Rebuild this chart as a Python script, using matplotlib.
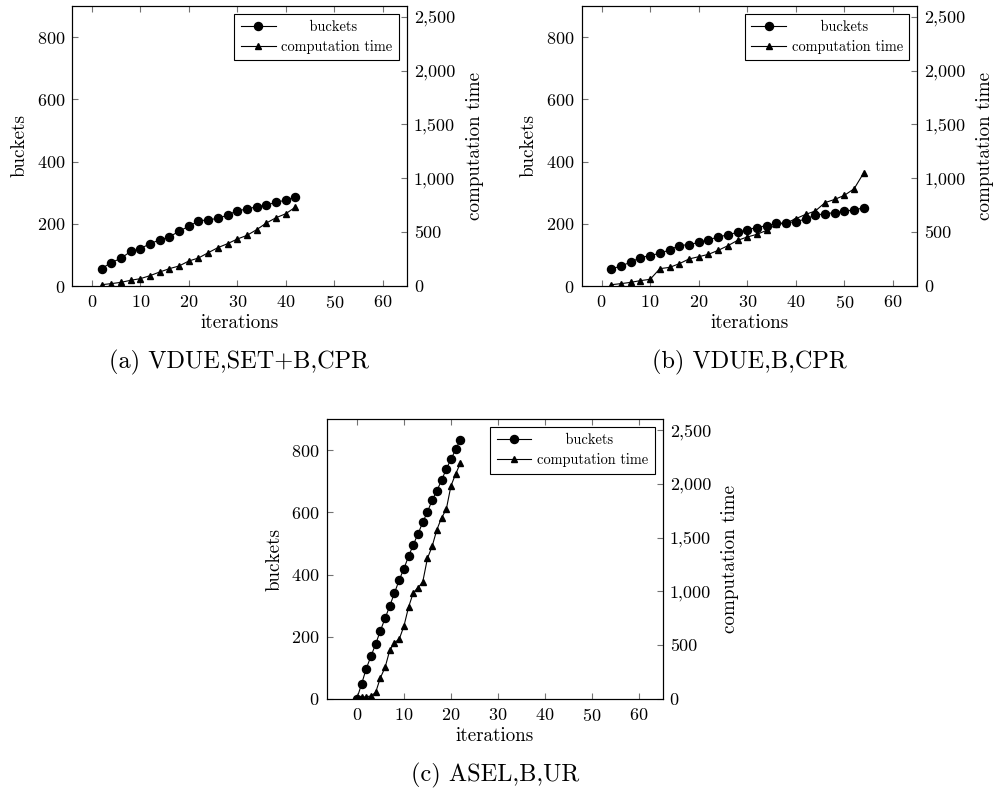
import matplotlib
matplotlib.use("Agg")
import matplotlib.pyplot as plt
from matplotlib.ticker import FuncFormatter

plt.rcParams["font.family"] = ["cmr10", "DejaVu Serif"]
plt.rcParams["axes.formatter.use_mathtext"] = True

# (a) VDUE,SET+B,CPR
iters_a = [2, 4, 6, 8, 10, 12, 14, 16, 18, 20, 22, 24, 26, 28, 30, 32, 34, 36, 38, 40, 42]
buckets_a = [56, 75, 89, 111, 120, 136, 148, 158, 176, 192, 209, 213, 217, 228, 242,
             247, 255, 260, 269, 276, 286]
time_a = [12, 22, 34, 53, 68, 96, 130, 161, 186, 232, 260, 309, 356, 393, 436,
          470, 523, 585, 634, 671, 733]

# (b) VDUE,B,CPR
iters_b = [2, 4, 6, 8, 10, 12, 14, 16, 18, 20, 22, 24, 26, 28, 30, 32, 34, 36, 38, 40,
           42, 44, 46, 48, 50, 52, 54]
buckets_b = [55, 64, 77, 91, 98, 105, 116, 130, 133, 140, 149, 157, 165, 172, 181, 188,
             194, 201, 203, 207, 215, 228, 232, 236, 240, 245, 251]
time_b = [12, 22, 34, 50, 62, 161, 173, 207, 251, 272, 294, 331, 374, 424, 455, 480,
          517, 572, 585, 625, 665, 696, 774, 804, 842, 903, 1052]

# (c) ASEL,B,UR
iters_c = list(range(0, 23))
buckets_c = [0, 47, 97, 137, 176, 219, 259, 299, 341, 382, 419, 459, 496, 531, 568,
             602, 639, 670, 703, 740, 771, 803, 835]
time_c = [0, 12, 19, 25, 59, 195, 291, 452, 523, 554, 675, 854, 987, 1034, 1086,
          1306, 1418, 1572, 1684, 1761, 1981, 2092, 2191]

x_ticks = [0, 10, 20, 30, 40, 50, 60]
bucket_ticks = [0, 200, 400, 600, 800]
time_ticks = [0, 500, 1000, 1500, 2000, 2500]

comma = FuncFormatter(lambda v, p: f"{int(v):,}")


def panel(fig, rect, xs, bk, tm, xmin, caption):
    ax = fig.add_axes(rect)
    ax2 = ax.twinx()
    l1, = ax.plot(xs, bk, color="black", marker="o", markersize=5.8, linewidth=0.8)
    l2, = ax2.plot(xs, tm, color="black", marker="^", markersize=4.6, linewidth=0.8)
    ax.set_xlim(xmin, 65)
    ax.set_ylim(0, 900)
    ax2.set_ylim(0, 2600)
    ax.set_xticks(x_ticks)
    ax.set_yticks(bucket_ticks)
    ax2.set_yticks(time_ticks)
    ax2.yaxis.set_major_formatter(comma)
    ax.tick_params(axis="x", direction="in", top=True, length=4, color="0.45",
                   labelsize=13, pad=6)
    ax.tick_params(axis="y", direction="in", length=4, color="0.45", labelsize=13,
                   pad=5)
    ax2.tick_params(axis="y", direction="in", length=4, color="0.45", labelsize=13,
                    pad=5)
    ax.set_xlabel("iterations", fontsize=13.7, labelpad=2)
    ax.set_ylabel("buckets", fontsize=13.7, labelpad=6)
    ax2.set_ylabel("computation time", fontsize=13.7, labelpad=7.5)
    for a in (ax, ax2):
        for s in a.spines.values():
            s.set_linewidth(0.8)
    leg = ax2.legend([l1, l2], ["      buckets", "computation time"], loc="upper right",
                     fontsize=10.4, fancybox=False, edgecolor="black", framealpha=1,
                     borderaxespad=0.55, handlelength=2.4, handletextpad=0.4,
                     borderpad=0.45, labelspacing=0.4)
    leg.get_frame().set_linewidth(0.8)
    fig.text(rect[0] + rect[2] / 2, rect[1] - 0.096, caption, ha="center",
             va="center", fontsize=17.5)
    return ax


fig = plt.figure(figsize=(9.94, 7.96), dpi=100)
panel(fig, [0.0724, 0.6407, 0.337, 0.3518], iters_a, buckets_a, time_a, -4.1,
      "(a) VDUE,SET+B,CPR")
panel(fig, [0.5852, 0.6407, 0.3376, 0.3518], iters_b, buckets_b, time_b, -4.1,
      "(b) VDUE,B,CPR")
panel(fig, [0.3287, 0.1222, 0.338, 0.351], iters_c, buckets_c, time_c, -6.4,
      "(c) ASEL,B,UR")

fig.savefig("out.png", dpi=100)
